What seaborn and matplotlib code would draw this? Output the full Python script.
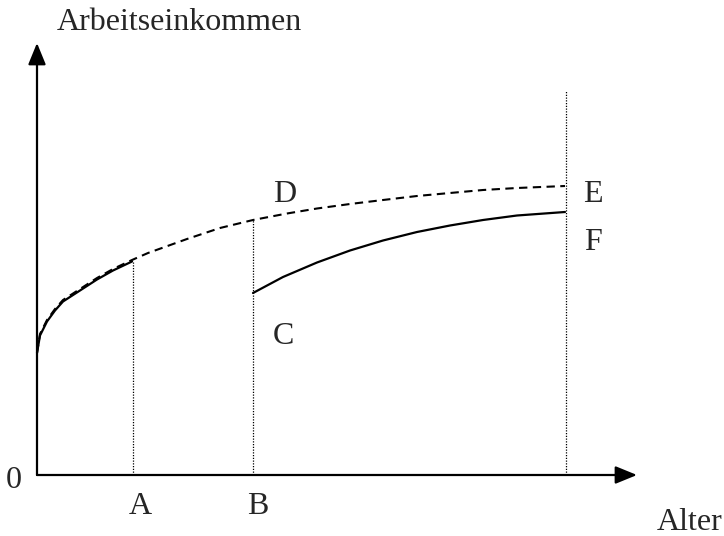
import matplotlib
matplotlib.use("Agg")
import matplotlib.pyplot as plt
import seaborn as sns
import pandas as pd

sns.set_theme(style="white")
plt.rcParams['font.family'] = ['Liberation Serif', 'DejaVu Serif']

# Data (age units on x, income units on y; origin at 0,0)
dashed_age = [0, 3, 10, 18, 26, 43, 60, 76, 95, 111, 150, 183, 216, 250, 280,
              313, 346, 380, 413, 446, 480, 528]
dashed_inc = [122, 141, 155, 166, 175, 186, 197, 206, 215, 222, 236, 247, 255,
              261.5, 266.5, 271, 275, 279, 282, 285, 287, 289]

early_age = [0, 3, 10, 18, 26, 43, 60, 76, 95]
early_inc = [122, 139.5, 153.5, 164.5, 173.5, 184.5, 195.5, 204.5, 213.5]

late_age = [216, 246, 280, 313, 346, 380, 413, 446, 480, 528]
late_inc = [182, 198, 212.5, 224.5, 234.5, 243, 249.5, 255, 259.5, 263]

age_A, age_B, age_end = 96, 216, 529
top_A, top_B, top_end = 214, 256, 385

df_dash = pd.DataFrame({"age": dashed_age, "inc": dashed_inc})
df_early = pd.DataFrame({"age": early_age, "inc": early_inc})
df_late = pd.DataFrame({"age": late_age, "inc": late_inc})

fig = plt.figure(figsize=(7.24, 5.36), dpi=100)
ax = fig.add_axes([0, 0, 1, 1])
ax.set_xlim(-37, 687)
ax.set_ylim(-61, 475)
ax.axis("off")

sns.lineplot(data=df_dash, x="age", y="inc", ax=ax, color="black", lw=1.5,
             linestyle=(0, (4, 2.6)), sort=False)
sns.lineplot(data=df_early, x="age", y="inc", ax=ax, color="black", lw=1.6, sort=False)
sns.lineplot(data=df_late, x="age", y="inc", ax=ax, color="black", lw=1.6, sort=False)

for xa, ya in [(age_A, top_A), (age_B, top_B), (age_end, top_end)]:
    ax.plot([xa, xa], [0, ya], color="black", lw=0.9, linestyle=(0, (1, 1.2)))

# Axes with arrows
arrow = dict(arrowstyle="-|>,head_length=1.1,head_width=0.45", color="black",
             lw=1.6, shrinkA=0, shrinkB=0)
ax.annotate("", xy=(600, 0), xytext=(0, 0), arrowprops=arrow)
ax.annotate("", xy=(0, 432), xytext=(0, 0), arrowprops=arrow)

fs = 23
ax.text(20, 452, "Arbeitseinkommen", fontsize=fs, ha="left", va="center")
ax.text(-23, -5, "0", fontsize=fs, ha="center", va="center")
ax.text(103, -32, "A", fontsize=fs, ha="center", va="center")
ax.text(221, -32, "B", fontsize=fs, ha="center", va="center")
ax.text(246, 138, "C", fontsize=fs, ha="center", va="center")
ax.text(248, 280, "D", fontsize=fs, ha="center", va="center")
ax.text(556, 280, "E", fontsize=fs, ha="center", va="center")
ax.text(556, 233, "F", fontsize=fs, ha="center", va="center")
ax.text(653, -48, "Alter", fontsize=fs, ha="center", va="center")

fig.savefig("out.png", dpi=100)
